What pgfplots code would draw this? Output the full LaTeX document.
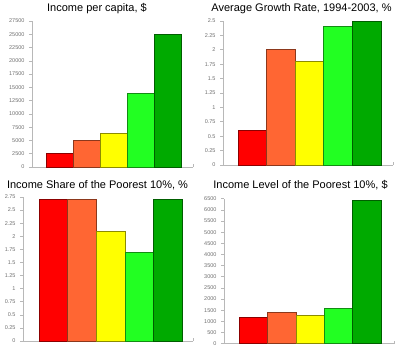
\documentclass[border=0pt]{standalone}
\usepackage{fontspec}
\setmainfont{Liberation Sans}
\usepackage{pgfplots}
\pgfplotsset{compat=1.18}
\definecolor{cR}{HTML}{FF0000}
\definecolor{cO}{HTML}{FF6633}
\definecolor{cY}{HTML}{FFFF00}
\definecolor{cL}{HTML}{22FF22}
\definecolor{cG}{HTML}{00AA00}
\definecolor{axg}{HTML}{B8B8B8}
\definecolor{tlg}{HTML}{707070}
\pgfplotsset{
  panel/.style={
    scale only axis,
    anchor=south west,
    axis x line*=bottom,
    axis y line*=left,
    axis line style={axg, line width=0.8bp, -},
    xtick=\empty,
    ymin=0,
    scaled y ticks=false,
    tick style={axg, line width=0.6bp},
    major tick length=3bp,
    ytick align=outside,
    yticklabel style={font=\fontsize{5.5bp}{6bp}\selectfont, text=tlg, xshift=-1bp},
    /pgf/number format/assume math mode=true,
    /pgf/number format/1000 sep={},
    clip=false,
  },
  bb/.style={ybar, bar width=1, bar shift=0pt, fill=#1, draw=#1!55!black, line width=0.6bp},
}
\begin{document}
\begin{tikzpicture}
\path[use as bounding box] (0,0) rectangle (400bp,354bp);
% Panel 1
\begin{axis}[panel, at={(32bp,187bp)}, width=161bp, height=146bp,
  xmin=-1.02, xmax=4.94, ymax=27500,
  ytick={0,2500,5000,7500,10000,12500,15000,17500,20000,22500,25000,27500},
  extra x ticks={4.94}, extra x tick labels={}, extra x tick style={major tick length=3bp, tick align=inside}]
\addplot[bb=cR] coordinates {(0,2500)};
\addplot[bb=cO] coordinates {(1,5000)};
\addplot[bb=cY] coordinates {(2,6300)};
\addplot[bb=cL] coordinates {(3,13800)};
\addplot[bb=cG] coordinates {(4,25000)};
\end{axis}
% Panel 2
\begin{axis}[panel, at={(223bp,189bp)}, width=170bp, height=144bp,
  xmin=-1.02, xmax=4.92, ymax=2.5,
  ytick={0,0.25,0.5,0.75,1,1.25,1.5,1.75,2,2.25,2.5},
  extra x ticks={4.92}, extra x tick labels={}, extra x tick style={major tick length=3bp, tick align=inside}]
\addplot[bb=cR] coordinates {(0,0.6)};
\addplot[bb=cO] coordinates {(1,2.0)};
\addplot[bb=cY] coordinates {(2,1.8)};
\addplot[bb=cL] coordinates {(3,2.4)};
\addplot[bb=cG] coordinates {(4,2.5)};
\end{axis}
% Panel 3
\begin{axis}[panel, at={(23bp,13bp)}, width=170bp, height=144bp,
  xmin=-1.06, xmax=4.88, ymax=2.75,
  ytick={0,0.25,0.5,0.75,1,1.25,1.5,1.75,2,2.25,2.5,2.75},
  extra x ticks={4.88}, extra x tick labels={}, extra x tick style={major tick length=3bp, tick align=inside}]
\addplot[bb=cR] coordinates {(0,2.7)};
\addplot[bb=cO] coordinates {(1,2.7)};
\addplot[bb=cY] coordinates {(2,2.1)};
\addplot[bb=cL] coordinates {(3,1.7)};
\addplot[bb=cG] coordinates {(4,2.7)};
\end{axis}
% Panel 4
\begin{axis}[panel, at={(224bp,10.3bp)}, width=170bp, height=145bp,
  xmin=-1.03, xmax=4.95, ymax=6500,
  ytick={0,500,1000,1500,2000,2500,3000,3500,4000,4500,5000,5500,6000,6500},
  extra x ticks={4.95}, extra x tick labels={}, extra x tick style={major tick length=3bp, tick align=inside}]
\addplot[bb=cR] coordinates {(0,1200)};
\addplot[bb=cO] coordinates {(1,1400)};
\addplot[bb=cY] coordinates {(2,1280)};
\addplot[bb=cL] coordinates {(3,1600)};
\addplot[bb=cG] coordinates {(4,6450)};
\end{axis}
\begin{scope}[every node/.style={font=\fontsize{11bp}{13bp}\selectfont, anchor=base, inner sep=0pt}]
\node at (97bp,342bp) {Income per capita, \$};
\node at (301.5bp,342bp) {Average Growth Rate, 1994-2003, \%};
\node at (97.5bp,165bp) {Income Share of the Poorest 10\%, \%};
\node at (300.5bp,165bp) {Income Level of the Poorest 10\%, \$};
\end{scope}
\end{tikzpicture}
\end{document}
